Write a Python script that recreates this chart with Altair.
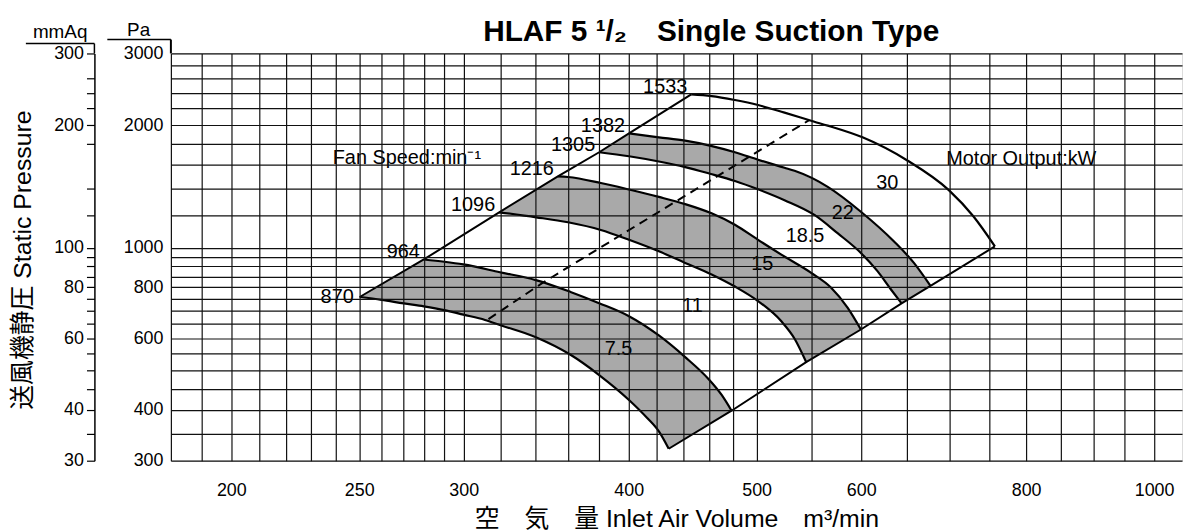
import altair as alt
import pandas as pd

# ---------------- values ----------------
speeds = [870, 964, 1096, 1216, 1305, 1382, 1533]

q870 = [250.2, 259.9, 270.2, 279.8, 290.0, 299.8, 311.3, 319.5, 340.2, 361.4, 379.9, 400.2, 413.1, 421.6, 428.9]
p870 = [757, 745, 730, 718, 703, 685, 665, 646, 603, 546, 487, 423, 382, 354, 321]

q964 = [279.8, 290.0, 299.8, 319.5, 340.2, 361.4, 379.9, 400.2, 421.6, 441.4, 459.5, 470.4, 478.6]
p964 = [936, 924, 910, 871, 833, 779, 731, 679, 609, 539, 477, 435, 398]

q1096 = [319.1, 340.4, 359.8, 381.0, 400.2, 421.6, 441.4, 462.2, 481.4, 501.2, 522.0, 534.2, 545.1]
p1096 = [1222, 1188, 1155, 1106, 1046, 980, 918, 860, 803, 740, 660, 598, 524]

q1216 = [353.5, 359.8, 381.0, 400.2, 421.6, 441.4, 462.2, 481.4, 501.2, 522.0, 549.9, 569.4, 585.9, 599.7]
p1216 = [1498, 1492, 1442, 1390, 1333, 1280, 1215, 1139, 1046, 962, 868, 798, 713, 630]

q1305 = [379.9, 400.2, 421.6, 441.4, 460.8, 481.4, 501.2, 524.9, 553.0, 575.8, 599.7, 617.3, 631.8, 643.8]
p1305 = [1716, 1678, 1629, 1578, 1520, 1459, 1392, 1309, 1204, 1086, 971, 876, 791, 730]

q1382 = [400.2, 421.6, 441.4, 460.8, 481.4, 501.2, 524.9, 534.2, 566.0, 599.7, 635.4, 657.8, 677.1]
p1382 = [1909, 1867, 1832, 1782, 1716, 1645, 1572, 1545, 1411, 1226, 1036, 918, 806]

q1533 = [446.1, 462.2, 481.4, 501.2, 524.9, 553.0, 566.0, 601.4, 650.3, 699.1, 729.9, 757.6]
p1533 = [2380, 2358, 2306, 2242, 2147, 2040, 1995, 1867, 1638, 1385, 1193, 1008]

curve_q = {870: q870, 964: q964, 1096: q1096, 1216: q1216, 1305: q1305, 1382: q1382, 1533: q1533}
curve_p = {870: p870, 964: p964, 1096: p1096, 1216: p1216, 1305: p1305, 1382: p1382, 1533: p1533}

# shaded bands (lower speed, upper speed)
shaded = [(870, 964), (1096, 1216), (1305, 1382)]

motor_labels = ["7.5", "11", "15", "18.5", "22", "30"]
motor_q = [393, 447, 505, 544, 581, 628]
motor_p = [565, 719, 910, 1070, 1217, 1440]

note_text = ["Fan Speed:min\u207b\u00b9", "Motor Output:kW"]
note_q = [238.7, 696.0]
note_p = [1657, 1648]

dash_q = [313.2, 344.4, 548.0]
dash_p = [668, 821, 2058]

x_grid = list(range(180, 300, 10)) + list(range(300, 500, 20)) + list(range(500, 1001, 50))
x_labels = [200, 250, 300, 400, 500, 600, 800, 1000]
pa_grid = list(range(300, 1000, 50)) + list(range(1000, 3001, 200))
pa_labels = [300, 400, 600, 800, 1000, 2000, 3000]
mmaq_ticks = [30, 35, 40, 45, 50, 55, 60, 65, 70, 75, 80, 85, 90, 95, 100, 120, 140, 180, 200, 220, 240, 260, 300]
mmaq_labels = [30, 40, 60, 80, 100, 200, 300]

# ---------------- tables ----------------
rows = []
for s in speeds:
    for i, (q, p) in enumerate(zip(curve_q[s], curve_p[s])):
        rows.append({"speed": s, "q": q, "p": p, "i": i})
curve_df = pd.DataFrame(rows)

prow = []
for b, (lo, hi) in enumerate(shaded):
    pts = list(zip(curve_q[hi], curve_p[hi])) + list(zip(curve_q[lo], curve_p[lo]))[::-1]
    for i, (q, p) in enumerate(pts):
        prow.append({"band": b, "q": q, "p": p, "i": i})
poly_df = pd.DataFrame(prow)

left_df = pd.DataFrame({"speed": speeds,
                        "q": [curve_q[s][0] for s in speeds],
                        "p": [curve_p[s][0] for s in speeds]})
right_df = pd.DataFrame({"speed": speeds,
                         "q": [curve_q[s][-1] for s in speeds],
                         "p": [curve_p[s][-1] for s in speeds]})
motor_df = pd.DataFrame({"t": motor_labels, "q": motor_q, "p": motor_p})
note_df = pd.DataFrame({"t": note_text, "q": note_q, "p": note_p})
dash_df = pd.DataFrame({"q": dash_q, "p": dash_p})
mm_df = pd.DataFrame({"v": mmaq_ticks})
one = pd.DataFrame({"a": [0]})

FONT = "Liberation Sans, Arial, Noto Sans CJK JP"
GRID = "#111111"

xs = alt.Scale(type="log", domain=[180, 1050], nice=False)
ys = alt.Scale(type="log", domain=[300, 3000], nice=False)

x_axis = alt.Axis(
    values=x_grid, grid=True, ticks=False, domain=False, zindex=1,
    gridColor=GRID, gridWidth=1.2, gridOpacity=1,
    labelExpr="indexof(" + str(x_labels) + ", datum.value) >= 0 ? format(datum.value, 'd') : ''",
    labelFontSize=18, labelFont=FONT, labelColor="black", labelPadding=21,
    labelOverlap=False, labelFlush=False,
    title="空　気　量 Inlet Air Volume　m³/min", titleFontSize=25, titleFont=FONT,
    titleFontWeight="normal", titleColor="black", titleBaseline="middle", titleY=58,
)
y_axis = alt.Axis(
    values=pa_grid, grid=True, ticks=False, domain=False, zindex=1,
    gridColor=GRID, gridWidth=1.2, gridOpacity=1,
    labelExpr="indexof(" + str(pa_labels) + ", datum.value) >= 0 ? format(datum.value, 'd') : ''",
    labelFontSize=18, labelFont=FONT, labelColor="black", labelPadding=8,
    labelOverlap=False, labelFlush=False,
    title="Pa", titleAngle=0, titleX=-33, titleY=-18, titleAlign="center",
    titleBaseline="alphabetic", titleFontSize=19, titleFont=FONT, titleFontWeight="normal",
    titleColor="black",
)

X = alt.X("q:Q", scale=xs, axis=x_axis)
Y = alt.Y("p:Q", scale=ys, axis=y_axis)

poly = alt.Chart(poly_df).mark_line(fill="#a9a9a9", strokeWidth=0, strokeOpacity=0).encode(
    x=X, y=Y, detail="band:N", order="i:Q")

curves = alt.Chart(curve_df).mark_line(color="black", strokeWidth=2.2, interpolate="monotone").encode(
    x=X, y=Y, detail="speed:N", order="i:Q")

left_line = alt.Chart(left_df).mark_line(color="black", strokeWidth=2).encode(x=X, y=Y, order="speed:Q")
right_line = alt.Chart(right_df).mark_line(color="black", strokeWidth=2).encode(x=X, y=Y, order="speed:Q")

dash = alt.Chart(dash_df).mark_line(color="black", strokeWidth=2, strokeDash=[9, 6]).encode(x=X, y=Y)

rpm_txt = alt.Chart(left_df).transform_filter("datum.speed != 870").mark_text(
    align="right", baseline="middle", dx=-4, dy=-7, fontSize=20, font=FONT, color="black").encode(
    x=X, y=Y, text="speed:N")
rpm_txt0 = alt.Chart(left_df).transform_filter("datum.speed == 870").mark_text(
    align="right", baseline="middle", dx=-6, dy=0, fontSize=20, font=FONT, color="black").encode(
    x=X, y=Y, text="speed:N")

motor_txt = alt.Chart(motor_df).mark_text(
    align="center", baseline="middle", fontSize=20, font=FONT, color="black").encode(
    x=X, y=Y, text="t:N")
note_txt = alt.Chart(note_df).mark_text(
    align="left", baseline="middle", fontSize=20, font=FONT, color="black").encode(
    x=X, y=Y, text="t:N")

# decorations of the axis heads and titles
pa_head = alt.Chart(one).mark_rule(color="black", strokeWidth=1.5).encode(
    x=alt.value(-64), x2=alt.value(0), y=alt.value(-14))
pa_stem = alt.Chart(one).mark_rule(color="black", strokeWidth=2).encode(
    x=alt.value(0), y=alt.value(-14), y2=alt.value(0))
mm_head = alt.Chart(one).mark_rule(color="black", strokeWidth=1.5).encode(
    x=alt.value(-146), x2=alt.value(-77), y=alt.value(-10))
mm_stem = alt.Chart(one).mark_rule(color="black", strokeWidth=1.5).encode(
    x=alt.value(-77), y=alt.value(-10), y2=alt.value(0))
main_title = alt.Chart(one).mark_text(
    text="HLAF 5 ¹/₂\u2003Single Suction Type", fontSize=30, fontWeight="bold", font=FONT,
    align="center", baseline="middle", color="black").encode(x=alt.value(544), y=alt.value(-22))
y_title = alt.Chart(one).mark_text(
    text="送風機静圧  Static Pressure", fontSize=25, font=FONT, angle=270,
    align="center", baseline="middle", color="black").encode(x=alt.value(-149), y=alt.value(208))

inner = alt.layer(poly, curves, left_line, right_line, dash, rpm_txt, rpm_txt0, motor_txt,
                  note_txt, pa_head, pa_stem, mm_head, mm_stem, main_title, y_title)

mm_axis = alt.Axis(
    orient="left", offset=77, values=mmaq_ticks, grid=False, domain=True,
    domainColor="black", domainWidth=1.5, ticks=True, tickSize=8, tickColor="black", tickWidth=1.2,
    labelExpr="indexof(" + str(mmaq_labels) + ", datum.value) >= 0 ? format(datum.value, 'd') : ''",
    labelFontSize=18, labelFont=FONT, labelColor="black", labelPadding=3,
    labelOverlap=False, labelFlush=False,
    title="mmAq", titleAngle=0, titleX=-35, titleY=-16, titleAlign="center",
    titleBaseline="alphabetic", titleFontSize=19, titleFont=FONT, titleFontWeight="normal",
    titleColor="black",
)
mm_layer = alt.Chart(mm_df).mark_point(opacity=0).encode(
    y=alt.Y("v:Q", scale=alt.Scale(type="log", domain=[30, 300], nice=False), axis=mm_axis))

chart = alt.layer(inner, mm_layer).resolve_scale(y="independent").properties(
    width=1018, height=410,
    padding={"left": 164, "top": 44, "right": 5, "bottom": 69},
    autosize=alt.AutoSizeParams(type="none"),
).configure_view(stroke="black", strokeWidth=2).configure(background="white")

chart.save("out.html", embed_options={"renderer": "svg", "actions": False})
